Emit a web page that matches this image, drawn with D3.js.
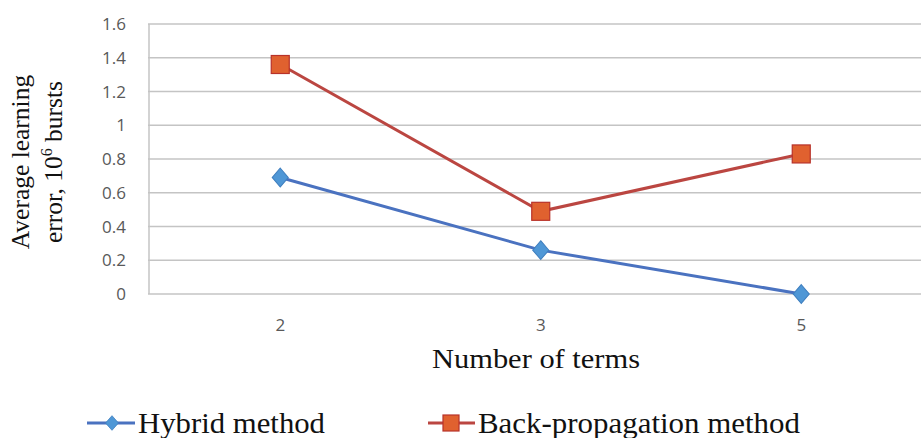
<!DOCTYPE html>
<html><head><meta charset="utf-8">
<script src="https://cdn.jsdelivr.net/npm/d3@7"></script>
<style>body{margin:0;background:#fff}svg{display:block}</style>
</head><body>
<script>
const categories = ["2", "3", "5"];
const hybrid = [0.69, 0.26, 0.0];
const backprop = [1.36, 0.49, 0.83];
const yTicks = [0, 0.2, 0.4, 0.6, 0.8, 1, 1.2, 1.4, 1.6];
const seriesNames = ["Hybrid method", "Back-propagation method"];

const W = 921, H = 438;
const svg = d3.select("body").append("svg").attr("width", W).attr("height", H);
const plotLeft = 150, plotTop = 24, plotBottom = 294;
const x = d3.scaleBand().domain(categories).range([plotLeft, plotLeft + 3 * 260.5]);
const y = d3.scaleLinear().domain([0, 1.6]).range([plotBottom, plotTop]);
const serif = "Liberation Serif, Times New Roman, serif";
const sans = "Open Sans, sans-serif";

// gridlines
svg.append("g").selectAll("line").data(yTicks).join("line")
  .attr("x1", plotLeft - 2).attr("x2", W).attr("y1", d => y(d)).attr("y2", d => y(d))
  .attr("stroke", "#c4c4c4").attr("stroke-width", 1.5);
svg.append("line").attr("x1", plotLeft - 1).attr("x2", plotLeft - 1).attr("y1", plotTop).attr("y2", plotBottom)
  .attr("stroke", "#c4c4c4").attr("stroke-width", 1.5);

// y tick labels
svg.append("g").selectAll("text").data(yTicks).join("text")
  .attr("x", 126).attr("y", d => y(d) + 6).attr("text-anchor", "end")
  .attr("font-family", sans).attr("font-size", 17).attr("fill", "#595959")
  .text(d => d3.format("~g")(d));

// x tick labels
svg.append("g").selectAll("text").data(categories).join("text")
  .attr("x", d => x(d) + x.bandwidth() / 2).attr("y", 331).attr("text-anchor", "middle")
  .attr("font-family", sans).attr("font-size", 17).attr("fill", "#595959")
  .text(d => d);

// axis titles
svg.append("text").attr("x", 432).attr("y", 368)
  .attr("font-family", serif).attr("font-size", 27).attr("fill", "#111")
  .attr("textLength", 208).attr("lengthAdjust", "spacingAndGlyphs")
  .text("Number of terms");
const yt = svg.append("text").attr("transform", "translate(0,162) rotate(-90)")
  .attr("text-anchor", "middle").attr("font-family", serif)
  .attr("font-size", 25.5).attr("fill", "#111");
yt.append("tspan").attr("x", 0).attr("y", 29).text("Average learning");
const t2 = yt.append("tspan").attr("x", 0).attr("y", 62);
t2.append("tspan").text("error, 10");
t2.append("tspan").attr("dy", -10).attr("font-size", 16).text("6");
t2.append("tspan").attr("dy", 10).text(" bursts");

const cx = d => x(d) + x.bandwidth() / 2;
const line = d3.line().x((d, i) => cx(categories[i])).y(d => y(d));

const blueLine = "#4a72c0", blueFill = "#4f97d6", blueStroke = "#3f7fbf";
const redLine = "#bb4641", redFill = "#e0612f", redStroke = "#b8322a";

svg.append("path").datum(backprop).attr("d", line).attr("fill", "none").attr("stroke", redLine).attr("stroke-width", 3);
svg.append("path").datum(hybrid).attr("d", line).attr("fill", "none").attr("stroke", blueLine).attr("stroke-width", 3);

const diamond = d3.symbol().type(d3.symbolDiamond).size(160);
svg.append("g").selectAll("path").data(hybrid).join("path")
  .attr("transform", (d, i) => `translate(${cx(categories[i])},${y(d)}) scale(1.18,0.8)`)
  .attr("d", diamond).attr("fill", blueFill).attr("stroke", blueStroke).attr("stroke-width", 1);
svg.append("g").selectAll("rect").data(backprop).join("rect")
  .attr("x", (d, i) => cx(categories[i]) - 9).attr("y", d => y(d) - 9)
  .attr("width", 18).attr("height", 18).attr("fill", redFill).attr("stroke", redStroke).attr("stroke-width", 1.2);

// legend
const lg = svg.append("g");
lg.append("line").attr("x1", 87).attr("x2", 135).attr("y1", 423).attr("y2", 423).attr("stroke", blueLine).attr("stroke-width", 3);
lg.append("path").attr("transform", "translate(112,423) scale(0.95,0.62)").attr("d", diamond).attr("fill", blueFill).attr("stroke", blueStroke);
lg.append("text").attr("x", 138).attr("y", 433).attr("font-family", serif)
  .attr("font-size", 30).attr("fill", "#111")
  .attr("textLength", 187).attr("lengthAdjust", "spacingAndGlyphs").text(seriesNames[0]);
lg.append("line").attr("x1", 428).attr("x2", 475).attr("y1", 423).attr("y2", 423).attr("stroke", redLine).attr("stroke-width", 3);
lg.append("rect").attr("x", 443).attr("y", 415).attr("width", 16).attr("height", 16).attr("fill", redFill).attr("stroke", redStroke).attr("stroke-width", 1.2);
lg.append("text").attr("x", 478).attr("y", 433).attr("font-family", serif)
  .attr("font-size", 30).attr("fill", "#111")
  .attr("textLength", 322).attr("lengthAdjust", "spacingAndGlyphs").text(seriesNames[1]);
</script>
</body></html>
